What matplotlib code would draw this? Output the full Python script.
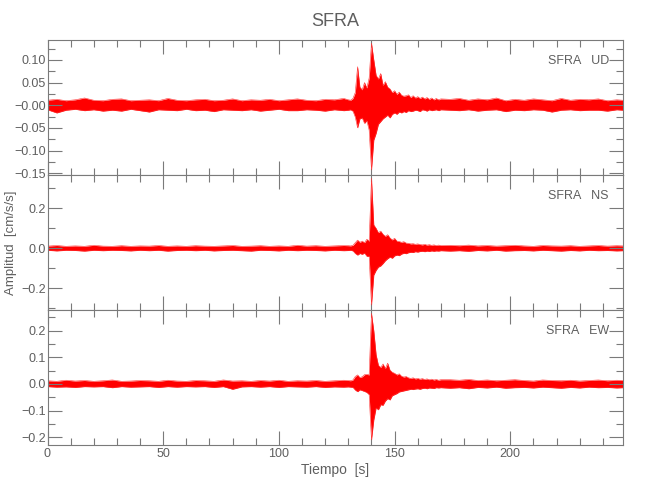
import numpy as np
import matplotlib
matplotlib.use('Agg')
import matplotlib.pyplot as plt
from matplotlib.ticker import MultipleLocator, FixedLocator, FixedFormatter

plt.rcParams['font.family'] = ['Liberation Sans Narrow', 'Liberation Sans', 'DejaVu Sans']
plt.rcParams['font.stretch'] = 'condensed'

# station / component names
station = 'SFRA'
components = ['UD', 'NS', 'EW']

# sample times of the envelope readings [s]: every 4 s in the quiet parts, every 1 s around the event
t_pre = np.arange(0, 129, 4)
t_event = np.arange(130, 171, 1)
t_post = np.append(np.arange(174, 247, 4), 248.7)
t_env = np.concatenate([t_pre, t_event, t_post])

# UD envelope [cm/s/s]
ud_upper = [0.011, 0.013, 0.010, 0.012, 0.016, 0.011, 0.010, 0.013, 0.014, 0.010, 0.011, 0.012, 0.010, 0.015, 0.011, 0.010, 0.012,
            0.013, 0.010, 0.011, 0.014, 0.010, 0.012, 0.011, 0.013, 0.010, 0.012, 0.014, 0.011, 0.010, 0.013, 0.012, 0.015,
            0.012, 0.011, 0.015, 0.028, 0.085, 0.040, 0.034, 0.050, 0.038, 0.060, 0.137, 0.100, 0.066, 0.058, 0.070, 0.044,
            0.052, 0.040, 0.036, 0.028, 0.032, 0.024, 0.029, 0.022, 0.020, 0.021, 0.023, 0.017, 0.021, 0.016, 0.019, 0.015,
            0.018, 0.014, 0.017, 0.013, 0.016, 0.012, 0.015, 0.012, 0.014,
            0.013, 0.015, 0.011, 0.014, 0.012, 0.016, 0.010, 0.013, 0.011, 0.014, 0.012, 0.010, 0.015, 0.011, 0.013, 0.012,
            0.014, 0.010, 0.012, 0.011]
ud_lower = [-0.010, -0.017, -0.011, -0.009, -0.012, -0.010, -0.013, -0.011, -0.013, -0.009, -0.012, -0.015, -0.010, -0.011,
            -0.012, -0.009, -0.012, -0.011, -0.014, -0.010, -0.011, -0.012, -0.010, -0.013, -0.011, -0.009, -0.012, -0.012,
            -0.010, -0.011, -0.013, -0.010, -0.012,
            -0.011, -0.010, -0.013, -0.026, -0.050, -0.030, -0.028, -0.040, -0.034, -0.055, -0.143, -0.077, -0.062, -0.042,
            -0.036, -0.030, -0.026, -0.022, -0.028, -0.020, -0.017, -0.020, -0.015, -0.017, -0.014, -0.016, -0.012, -0.014,
            -0.013, -0.011, -0.012, -0.014, -0.010, -0.011, -0.013, -0.010, -0.012, -0.011, -0.010, -0.012, -0.010,
            -0.011, -0.012, -0.010, -0.013, -0.011, -0.010, -0.014, -0.011, -0.012, -0.010, -0.011, -0.015, -0.011, -0.010,
            -0.012, -0.011, -0.011, -0.013, -0.010, -0.011]

# NS envelope [cm/s/s]
ns_upper = [0.011, 0.014, 0.010, 0.012, 0.010, 0.015, 0.011, 0.010, 0.013, 0.010, 0.012, 0.011, 0.014, 0.010, 0.012, 0.010, 0.013,
            0.011, 0.010, 0.012, 0.014, 0.010, 0.011, 0.013, 0.010, 0.012, 0.010, 0.015, 0.011, 0.013, 0.010, 0.012, 0.014,
            0.013, 0.012, 0.015, 0.028, 0.041, 0.030, 0.036, 0.028, 0.045, 0.036, 0.350, 0.117, 0.100, 0.078, 0.086, 0.070,
            0.060, 0.068, 0.052, 0.042, 0.050, 0.036, 0.034, 0.030, 0.033, 0.026, 0.025, 0.022, 0.023, 0.020, 0.022, 0.019,
            0.017, 0.020, 0.016, 0.018, 0.015, 0.017, 0.014, 0.016, 0.014,
            0.015, 0.013, 0.016, 0.012, 0.014, 0.011, 0.013, 0.015, 0.012, 0.010, 0.014, 0.012, 0.011, 0.013, 0.010, 0.012,
            0.014, 0.011, 0.013, 0.012]
ns_lower = [-0.010, -0.013, -0.010, -0.011, -0.014, -0.010, -0.012, -0.010, -0.011, -0.013, -0.010, -0.012, -0.010, -0.014,
            -0.011, -0.010, -0.012, -0.010, -0.013, -0.011, -0.010, -0.012, -0.014, -0.010, -0.011, -0.013, -0.010, -0.012,
            -0.010, -0.011, -0.013, -0.010, -0.012,
            -0.011, -0.010, -0.013, -0.026, -0.034, -0.026, -0.030, -0.024, -0.040, -0.040, -0.284, -0.134, -0.110, -0.094,
            -0.088, -0.076, -0.062, -0.052, -0.044, -0.050, -0.038, -0.034, -0.037, -0.029, -0.025, -0.027, -0.022, -0.020,
            -0.021, -0.017, -0.019, -0.016, -0.015, -0.017, -0.014, -0.016, -0.013, -0.015, -0.013, -0.014, -0.012,
            -0.014, -0.012, -0.015, -0.011, -0.013, -0.010, -0.014, -0.012, -0.011, -0.013, -0.010, -0.012, -0.014, -0.011,
            -0.013, -0.010, -0.012, -0.011, -0.013, -0.012]

# EW envelope [cm/s/s]
ew_upper = [0.012, 0.010, 0.014, 0.011, 0.013, 0.010, 0.012, 0.015, 0.010, 0.011, 0.013, 0.012, 0.010, 0.014, 0.011, 0.010, 0.013,
            0.012, 0.010, 0.015, 0.011, 0.012, 0.010, 0.013, 0.011, 0.014, 0.010, 0.012, 0.011, 0.013, 0.010, 0.012, 0.014,
            0.013, 0.012, 0.015, 0.028, 0.034, 0.024, 0.027, 0.035, 0.036, 0.034, 0.265, 0.200, 0.110, 0.070, 0.062, 0.075,
            0.058, 0.078, 0.052, 0.044, 0.040, 0.034, 0.038, 0.029, 0.026, 0.028, 0.023, 0.021, 0.023, 0.019, 0.021, 0.018,
            0.020, 0.017, 0.019, 0.016, 0.018, 0.015, 0.017, 0.014, 0.016,
            0.016, 0.014, 0.017, 0.013, 0.015, 0.012, 0.014, 0.016, 0.013, 0.011, 0.015, 0.013, 0.012, 0.014, 0.011, 0.013,
            0.015, 0.012, 0.014, 0.013]
ew_lower = [-0.010, -0.012, -0.011, -0.013, -0.010, -0.011, -0.010, -0.014, -0.010, -0.012, -0.011, -0.010, -0.013, -0.010,
            -0.012, -0.010, -0.011, -0.010, -0.013, -0.010, -0.020, -0.011, -0.010, -0.012, -0.010, -0.013, -0.010, -0.011,
            -0.012, -0.010, -0.013, -0.011, -0.012,
            -0.011, -0.012, -0.013, -0.023, -0.029, -0.022, -0.025, -0.028, -0.032, -0.040, -0.210, -0.135, -0.090, -0.097,
            -0.078, -0.080, -0.064, -0.055, -0.060, -0.044, -0.040, -0.036, -0.030, -0.028, -0.026, -0.024, -0.022, -0.020,
            -0.021, -0.019, -0.018, -0.020, -0.017, -0.016, -0.018, -0.015, -0.016, -0.017, -0.014, -0.015, -0.014,
            -0.016, -0.014, -0.018, -0.013, -0.015, -0.012, -0.016, -0.014, -0.013, -0.015, -0.012, -0.014, -0.016, -0.013,
            -0.015, -0.012, -0.014, -0.013, -0.015, -0.014]

# axis ranges and tick labels as printed
t_max = 248.7
y_ranges = [(-0.154, 0.144), (-0.3085, 0.3665), (-0.229, 0.2775)]
ud_ticks = [-0.15, -0.10, -0.05, 0.0, 0.05, 0.10]
ud_ticklabels = ['\u22120.15', '\u22120.10', '\u22120.05', '\u22120.00', '0.05', '0.10']
ns_ticks = [-0.2, 0.0, 0.2]
ns_ticklabels = ['\u22120.2', '0.0', '0.2']
ew_ticks = [-0.2, -0.1, 0.0, 0.1, 0.2]
ew_ticklabels = ['\u22120.2', '\u22120.1', '0.0', '0.1', '0.2']
minor_steps = [0.025, 0.1, 0.05]
x_ticks = [0, 50, 100, 150, 200]

uppers = [ud_upper, ns_upper, ew_upper]
lowers = [ud_lower, ns_lower, ew_lower]
yticks = [ud_ticks, ns_ticks, ew_ticks]
yticklabels = [ud_ticklabels, ns_ticklabels, ew_ticklabels]

grey = '#7a7a7a'
text_grey = '#5f5f5f'

fig = plt.figure(figsize=(6.5, 5.0), dpi=100)
left, width = 47.5 / 650, (623 - 47.5) / 650
tops = [40, 175, 310]
panel_h = 135

for i in range(3):
    bottom = 1 - (tops[i] + panel_h) / 500
    ax = fig.add_axes([left, bottom, width, panel_h / 500])
    up = np.array(uppers[i])
    lo = np.array(lowers[i])
    ax.fill_between(t_env, lo, up, color='red', lw=0)
    ax.plot(t_env, up, color='#ff3030', lw=0.4)
    ax.plot(t_env, lo, color='#ff3030', lw=0.4)
    ax.set_xlim(0, t_max)
    ax.set_ylim(*y_ranges[i])

    ax.xaxis.set_major_locator(FixedLocator(x_ticks))
    ax.xaxis.set_minor_locator(MultipleLocator(10))
    ax.yaxis.set_major_locator(FixedLocator(yticks[i]))
    ax.yaxis.set_major_formatter(FixedFormatter(yticklabels[i]))
    ax.yaxis.set_minor_locator(MultipleLocator(minor_steps[i]))
    ax.tick_params(which='both', direction='in', top=True, right=True, color=grey, width=0.8,
                   labelsize=9, labelcolor=text_grey)
    ax.tick_params(which='major', length=10)
    ax.tick_params(which='minor', length=5)
    ax.tick_params(axis='y', pad=1)
    ax.tick_params(axis='x', pad=2)
    for sp in ax.spines.values():
        sp.set_color(grey)
        sp.set_linewidth(0.8)
    if i < 2:
        ax.tick_params(axis='x', labelbottom=False)

    fig.text(609 / 650, 1 - (tops[i] + 21) / 500, station + '   ' + components[i],
             ha='right', va='center', fontsize=9, color=text_grey)

fig.text(335 / 650, 1 - 21 / 500, station, ha='center', va='center', fontsize=13, color=text_grey)
fig.text(335 / 650, 1 - 470 / 500, 'Tiempo  [s]', ha='center', va='center', fontsize=10, color=text_grey)
fig.text(11 / 650, 1 - 243 / 500, 'Amplitud  [cm/s/s]', ha='center', va='center', rotation=90,
         fontsize=9.5, color=text_grey)

fig.savefig('out.png', dpi=100)
